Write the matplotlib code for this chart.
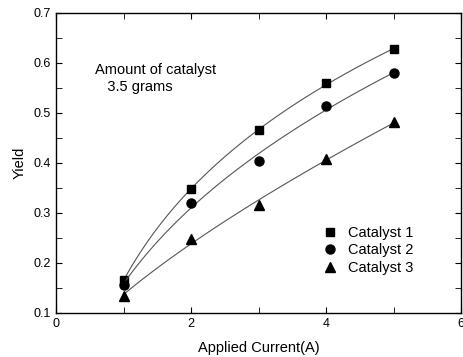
import numpy as np
import matplotlib.pyplot as plt
from matplotlib.ticker import MultipleLocator

plt.rcParams['font.family'] = ['Liberation Sans', 'DejaVu Sans']

current = [1, 2, 3, 4, 5]
catalyst1 = [0.165, 0.347, 0.466, 0.559, 0.627]
catalyst2 = [0.156, 0.319, 0.404, 0.514, 0.579]
catalyst3 = [0.134, 0.247, 0.316, 0.407, 0.481]

series = [("Catalyst 1", catalyst1, "s", 6),
          ("Catalyst 2", catalyst2, "o", 6.5),
          ("Catalyst 3", catalyst3, "^", 7)]


# fit y = a + b*x^c, best c by grid search
def fit_curve(x, y, xs):
    x = np.asarray(x, float)
    y = np.asarray(y, float)
    best = None
    for c in np.linspace(0.05, 1.5, 300):
        A = np.column_stack([np.ones_like(x), x ** c])
        coef, res, _, _ = np.linalg.lstsq(A, y, rcond=None)
        err = np.sum((A @ coef - y) ** 2)
        if best is None or err < best[0]:
            best = (err, c, coef)
    _, c, coef = best
    return coef[0] + coef[1] * xs ** c


fig = plt.figure(figsize=(4.63, 3.57), dpi=100)
ax = fig.add_axes([0.121, 0.124, 0.875, 0.84])

xs = np.linspace(1, 5, 100)
for name, ys, marker, ms in series:
    ax.plot(xs, fit_curve(current, ys, xs), color='#555555', lw=0.8)
    ax.plot(current, ys, marker=marker, ls='none', color='black', ms=ms, label=name)

ax.set_xlim(0, 6)
ax.set_ylim(0.1, 0.7)
ax.xaxis.set_major_locator(MultipleLocator(2))
ax.xaxis.set_minor_locator(MultipleLocator(1))
ax.yaxis.set_major_locator(MultipleLocator(0.1))
ax.yaxis.set_minor_locator(MultipleLocator(0.05))
ax.tick_params(which='both', direction='in', top=True, right=True, labelsize=9)
ax.tick_params(which='major', length=4)
ax.tick_params(which='minor', length=4)
for s in ax.spines.values():
    s.set_linewidth(1.0)

ax.set_xlabel("Applied Current(A)", fontsize=10.5, labelpad=8)
ax.set_ylabel("Yield", fontsize=10.5, labelpad=5)

ax.text(0.58, 0.569, "Amount of catalyst\n   3.5 grams", fontsize=10.5,
        va='center', ha='left', linespacing=1.25)

ax.legend(loc='center left', bbox_to_anchor=(0.648, 0.208), frameon=False,
          fontsize=10.5, handlelength=0.8, handletextpad=0.8,
          labelspacing=0.25, borderaxespad=0)

fig.savefig("out.png", dpi=100)
